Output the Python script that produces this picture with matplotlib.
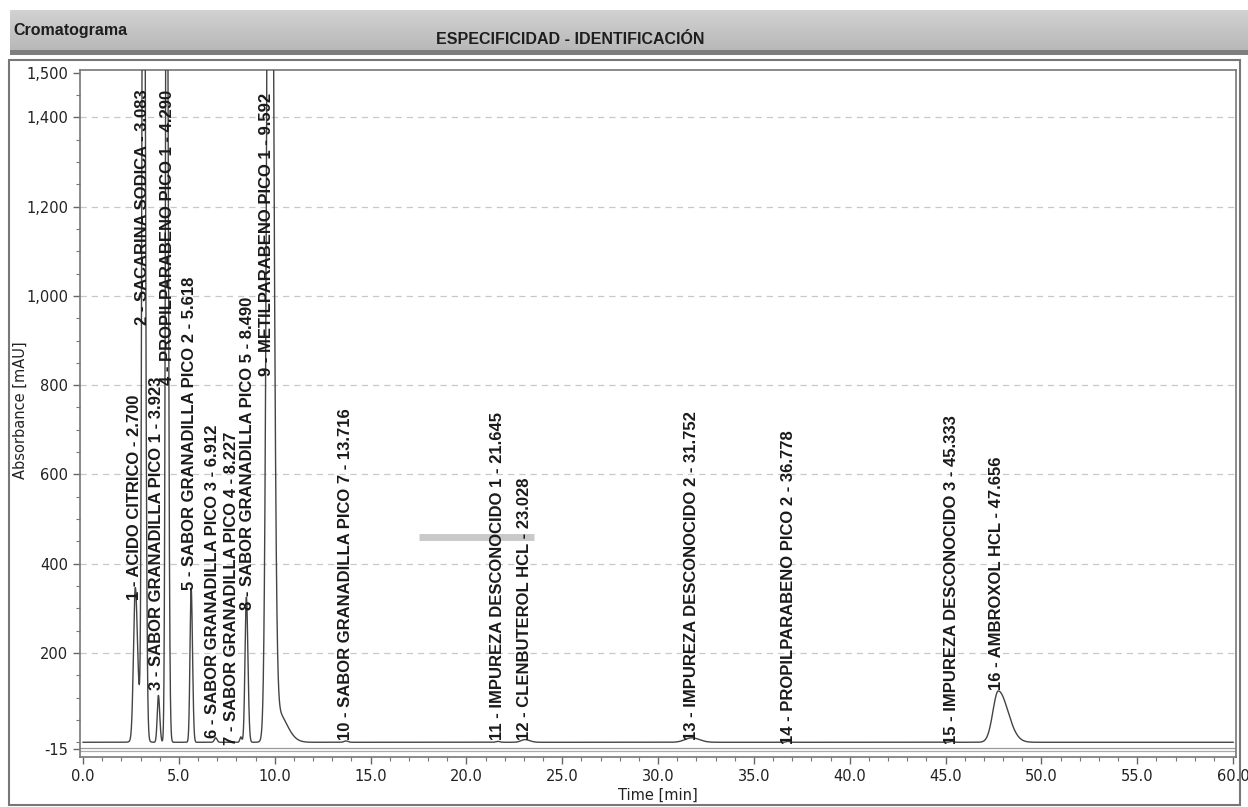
import numpy as np
import matplotlib
matplotlib.use("Agg")
import matplotlib.pyplot as plt
from matplotlib.patches import Rectangle
from matplotlib.ticker import MultipleLocator, FixedLocator, FuncFormatter

# ---------------- data ----------------
peak_num = [1, 2, 3, 4, 5, 6, 7, 8, 9, 10, 11, 12, 13, 14, 15, 16]
peak_name = ["ACIDO CITRICO", "SACARINA SODICA", "SABOR GRANADILLA PICO 1",
             "PROPILPARABENO PICO 1", "SABOR GRANADILLA PICO 2",
             "SABOR GRANADILLA PICO 3", "SABOR GRANADILLA PICO 4",
             "SABOR GRANADILLA PICO 5", "METILPARABENO PICO 1",
             "SABOR GRANADILLA PICO 7", "IMPUREZA DESCONOCIDO 1",
             "CLENBUTEROL HCL", "IMPUREZA DESCONOCIDO 2",
             "PROPILPARABENO PICO 2", "IMPUREZA DESCONOCIDO 3", "AMBROXOL HCL"]
peak_rt = [2.700, 3.083, 3.923, 4.290, 5.618, 6.912, 8.227, 8.490, 9.592,
           13.716, 21.645, 23.028, 31.752, 36.778, 45.333, 47.656]
label_base = [318, 935, 117, 800, 340, 10, -6, 296, 820,
              5, 5, 5, 5, -3, -3, 117]

# trace components (apex time [min], height [mAU], left / right width [min])
comp_t = [2.72, 2.95, 3.15, 3.93, 4.36, 5.64, 6.92, 8.23, 8.52, 9.75, 10.10,
          13.72, 21.65, 23.05, 31.75, 36.78, 45.33, 47.75]
comp_h = [315, 60, 2600, 105, 2200, 345, 10, 12, 325, 3000, 70,
          3, 2, 6, 10, 2, 2, 115]
comp_sl = [0.09, 0.20, 0.07, 0.06, 0.06, 0.06, 0.07, 0.05, 0.07, 0.14, 0.30,
           0.10, 0.10, 0.20, 0.35, 0.10, 0.10, 0.28]
comp_sr = [0.11, 0.20, 0.09, 0.07, 0.08, 0.07, 0.07, 0.05, 0.08, 0.16, 0.50,
           0.10, 0.10, 0.25, 0.40, 0.10, 0.10, 0.50]

y_ticks = [-15, 200, 400, 600, 800, 1000, 1200, 1400, 1500]
grid_levels = [200, 400, 600, 800, 1000, 1200, 1400]
x_ticks = [0, 5, 10, 15, 20, 25, 30, 35, 40, 45, 50, 55, 60]

# ---------------- build trace ----------------
t = np.linspace(0, 60, 24001)
signal = np.zeros_like(t)
for c, h, sl, sr in zip(comp_t, comp_h, comp_sl, comp_sr):
    s = np.where(t < c, sl, sr)
    signal += h * np.exp(-0.5 * ((t - c) / s) ** 2)

W, H = 1248, 807
fig = plt.figure(figsize=(W / 100, H / 100), dpi=100)
fig.patch.set_facecolor("white")

def fx(x):
    return x / W

def fy(y):
    return 1 - y / H

# header band
hdr = fig.add_axes([fx(10), fy(50), fx(1248 - 10), (50 - 10) / H])
grad = np.linspace(0.82, 0.72, 40).reshape(-1, 1)
hdr.imshow(grad, cmap="gray", vmin=0, vmax=1, aspect="auto",
           extent=[0, 1, 0, 1])
hdr.set_axis_off()
fig.add_artist(Rectangle((fx(10), fy(55)), fx(1238), 5 / H,
                         transform=fig.transFigure, facecolor="#7e7e7e",
                         edgecolor="none"))
fig.text(fx(13), fy(31), "Cromatograma", fontsize=11.5, fontweight="bold",
         family=["Liberation Sans", "DejaVu Sans"], color="#1e1e1e",
         va="center", ha="left")
fig.text(fx(570), fy(39), "ESPECIFICIDAD - IDENTIFICACIÓN", fontsize=11.5,
         fontweight="bold", family=["Liberation Sans", "DejaVu Sans"],
         color="#1e1e1e", va="center", ha="center")

# outer frame
fig.add_artist(Rectangle((fx(9), fy(805)), fx(1240 - 9), (805 - 60) / H,
                         transform=fig.transFigure, facecolor="none",
                         edgecolor="#777", lw=1.5))

# main axes
ax = fig.add_axes([fx(80), fy(757), fx(1236 - 80), (757 - 70) / H])
for g in grid_levels:
    ax.axhline(g, color="#c8c8c8", lw=0.9, ls=(0, (5, 4)), zorder=1)
ax.plot([17.5, 23.5], [460, 460], color="#b8b8b8", lw=5, alpha=0.75,
        solid_capstyle="butt", zorder=1)
ax.axhline(-12, color="#999", lw=0.9, zorder=2)
ax.axhline(-20, color="#aaa", lw=0.9, zorder=2)
ax.plot(t, signal, color="#444", lw=1.0, zorder=3)

ax.set_xlim(-0.16, 60.15)
ax.set_ylim(-33, 1506)

ax.yaxis.set_major_locator(FixedLocator(y_ticks))
ax.yaxis.set_minor_locator(MultipleLocator(50))
ax.yaxis.set_major_formatter(FuncFormatter(lambda v, p: f"{int(v):,}"))
ax.xaxis.set_major_locator(FixedLocator(x_ticks))
ax.xaxis.set_minor_locator(MultipleLocator(1))
ax.xaxis.set_major_formatter(FuncFormatter(lambda v, p: f"{v:.1f}"))
ax.tick_params(axis="both", which="major", length=5, width=1, color="#666",
               labelsize=10.5, labelcolor="#222")
ax.tick_params(axis="both", which="minor", length=3, width=0.8, color="#777")
for sp in ax.spines.values():
    sp.set_color("#777")
    sp.set_linewidth(1.2)

# small horizontal nudges (in minutes) so the crowded labels stay readable
label_dx = [0, 0, -0.1, 0.1, -0.05, -0.15, -0.5, 0.1, 0, 0, 0, 0, 0, 0, 0, 0]
for n, name, rt, yb, dx in zip(peak_num, peak_name, peak_rt, label_base,
                               label_dx):
    txt = f"{n} - {name} - {rt:.3f}"
    ax.text(rt + dx, yb, txt, rotation=90, ha="center", va="bottom",
            fontsize=12, fontweight="bold", color="#1a1a1a",
            family=["Liberation Sans", "DejaVu Sans"], clip_on=False,
            zorder=4)

fig.text(fx(20), fy(410), "Absorbance [mAU]", rotation=90, fontsize=10.5,
         color="#222", ha="center", va="center")
fig.text(fx(658), fy(788), "Time [min]", fontsize=10.5, color="#222",
         ha="center", va="top")

fig.savefig("out.png", dpi=100)
